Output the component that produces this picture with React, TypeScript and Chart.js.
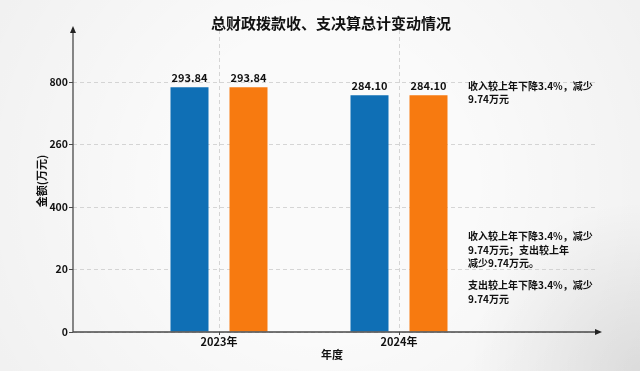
import React, { useEffect, useRef } from "react";
import { Chart, registerables } from "chart.js";

Chart.register(...registerables);

// ---- data ----
const years = ["2023年", "2024年"];
const incomeValues = [293.84, 284.1];
const expenseValues = [293.84, 284.1];
const yTickValues = [0, 75, 150, 225, 300];
const yTickLabels = ["0", "20", "400", "260", "800"];
const chartTitle = "总财政拨款收、支决算总计变动情况";
const yAxisTitle = "金额(万元)";
const xAxisTitle = "年度";
const noteTop = ["收入较上年下降3.4%，减少", "9.74万元"];
const noteMiddle = ["收入较上年下降3.4%，减少", "9.74万元；支出较上年", "减少9.74万元。"];
const noteBottom = ["支出较上年下降3.4%，减少", "9.74万元"];

const FONT = '"Noto Sans CJK SC", "Noto Sans", sans-serif';
const BLUE = "#0f6fb5";
const ORANGE = "#f77a10";
const AXIS = "#4a4a4a";
const GRID = "rgba(200,200,200,0.75)";

const decorPlugin = {
  id: "decor",
  beforeDraw(chart: any) {
    const { ctx, width, height } = chart;
    ctx.save();
    ctx.fillStyle = "#fafafa";
    ctx.fillRect(0, 0, width, height);
    const g0 = ctx.createRadialGradient(width / 2, height / 2, 150, width / 2, height / 2, 380);
    g0.addColorStop(0, "rgba(0,0,0,0)");
    g0.addColorStop(1, "rgba(0,0,0,0.04)");
    ctx.fillStyle = g0;
    ctx.fillRect(0, 0, width, height);
    const g = ctx.createRadialGradient(width, height, 0, width, height, 170);
    g.addColorStop(0, "rgba(0,0,0,0.09)");
    g.addColorStop(1, "rgba(0,0,0,0)");
    ctx.fillStyle = g;
    ctx.fillRect(0, 0, width, height);
    ctx.restore();
  },
  afterDraw(chart: any) {
    const { ctx, chartArea: a } = chart;
    ctx.save();
    // axes with arrows
    ctx.strokeStyle = AXIS;
    ctx.fillStyle = "#222";
    ctx.lineWidth = 1.3;
    ctx.beginPath();
    ctx.moveTo(a.left, a.bottom);
    ctx.lineTo(a.left, a.top - 1);
    ctx.moveTo(a.left, a.bottom);
    ctx.lineTo(a.right + 4, a.bottom);
    ctx.stroke();
    ctx.beginPath();
    ctx.moveTo(a.left, a.top - 4);
    ctx.lineTo(a.left - 3, a.top + 3);
    ctx.lineTo(a.left + 3, a.top + 3);
    ctx.closePath();
    ctx.fill();
    ctx.beginPath();
    ctx.moveTo(a.right + 7, a.bottom);
    ctx.lineTo(a.right, a.bottom - 3);
    ctx.lineTo(a.right, a.bottom + 3);
    ctx.closePath();
    ctx.fill();

    // title
    ctx.fillStyle = "#111";
    ctx.textAlign = "center";
    ctx.textBaseline = "middle";
    ctx.font = `bold 15px ${FONT}`;
    ctx.fillText(chartTitle, 331, 23);

    // axis titles
    ctx.font = `bold 11px ${FONT}`;
    ctx.fillText(xAxisTitle, (a.left + a.right) / 2 - 2, 355);
    ctx.save();
    ctx.translate(42, (a.top + a.bottom) / 2);
    ctx.rotate(-Math.PI / 2);
    ctx.fillText(yAxisTitle, 0, 0);
    ctx.restore();

    // value labels
    ctx.font = `bold 11px ${FONT}`;
    ctx.textBaseline = "alphabetic";
    chart.data.datasets.forEach((ds: any, di: number) => {
      const meta = chart.getDatasetMeta(di);
      meta.data.forEach((el: any, i: number) => {
        const v = ds.data[i].y;
        ctx.fillText(v.toFixed(2), el.x, el.y - 5);
      });
    });

    // notes
    ctx.font = `bold 10px ${FONT}`;
    ctx.textAlign = "left";
    ctx.textBaseline = "middle";
    const lh = 13.5;
    const drawBlock = (lines: string[], y0: number) => {
      lines.forEach((t, i) => ctx.fillText(t, 468, y0 + i * lh));
    };
    drawBlock(noteTop, 86);
    drawBlock(noteMiddle, 236.5);
    drawBlock(noteBottom, 285.5);
    ctx.restore();
  },
};

export default function App() {
  const ref = useRef<HTMLCanvasElement | null>(null);
  useEffect(() => {
    if (!ref.current) return;
    const chart = new Chart(ref.current, {
      type: "bar",
      data: {
        datasets: [
          {
            label: "收入",
            data: years.map((_, i) => ({ x: i, y: incomeValues[i] })),
            backgroundColor: BLUE,
            categoryPercentage: 118 / 180,
            barPercentage: 38 / 59,
          },
          {
            label: "支出",
            data: years.map((_, i) => ({ x: i, y: expenseValues[i] })),
            backgroundColor: ORANGE,
            categoryPercentage: 118 / 180,
            barPercentage: 38 / 59,
          },
        ],
      },
      options: {
        responsive: false,
        animation: false,
        layout: { padding: { left: 0, right: 45, top: 30, bottom: 0 } },
        plugins: {
          legend: { display: false },
          tooltip: { enabled: false },
          title: { display: false },
        },
        scales: {
          x: {
            type: "linear",
            min: -146 / 180,
            max: 2.9 - 146 / 180,
            offset: false,
            z: 1,
            afterBuildTicks: (s: any) => {
              s.ticks = years.map((_, i) => ({ value: i }));
            },
            afterFit: (s: any) => {
              s.height = 39;
            },
            border: { display: false, dash: [4, 3] },
            grid: {
              offset: false,
              color: GRID,
              lineWidth: 1,
              drawTicks: true,
              tickLength: 3,
              tickColor: AXIS,
              tickBorderDash: [],
            } as any,
            ticks: {
              callback: (v: any) => years[v] ?? "",
              font: { family: FONT, size: 11, weight: "bold" },
              color: "#111",
              padding: 0,
              maxRotation: 0,
              autoSkip: false,
            },
          },
          y: {
            min: 0,
            max: 362.4,
            z: 1,
            afterBuildTicks: (s: any) => {
              s.ticks = yTickValues.map((v) => ({ value: v }));
            },
            afterFit: (s: any) => {
              s.width = 73;
            },
            border: { display: false, dash: [4, 3] },
            grid: {
              color: GRID,
              lineWidth: 1,
              drawTicks: true,
              tickLength: 4,
              tickColor: AXIS,
              tickBorderDash: [],
            } as any,
            ticks: {
              callback: (_v: any, i: number) => yTickLabels[i] ?? "",
              font: { family: FONT, size: 10.5, weight: "bold" },
              color: "#111",
              padding: 1,
            },
          },
        },
      } as any,
      plugins: [decorPlugin],
    });
    return () => chart.destroy();
  }, []);
  return (
    <div style={{ position: "absolute", left: 0, top: 0, width: 640, height: 371 }}>
      <canvas ref={ref} width={640} height={371} style={{ display: "block" }} />
    </div>
  );
}
